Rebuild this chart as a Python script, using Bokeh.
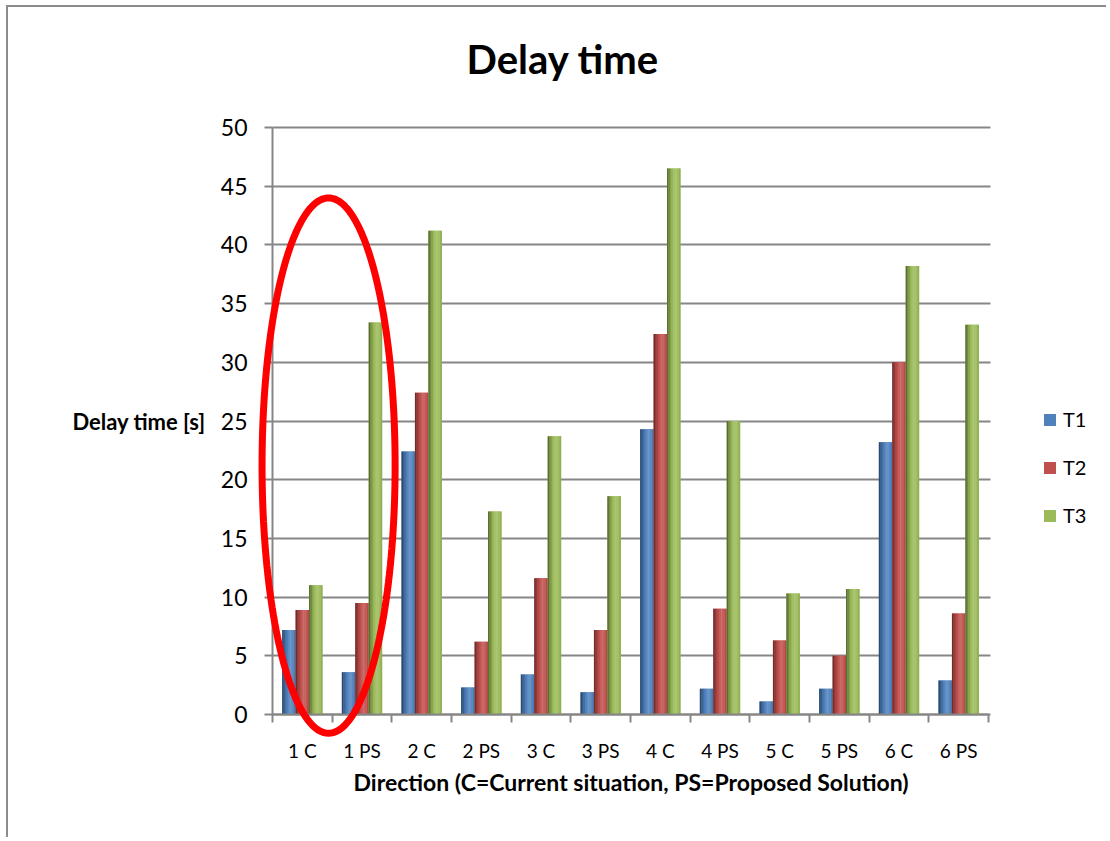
import numpy as np
from bokeh.plotting import figure
from bokeh.models import (Range1d, FixedTicker, Legend, LegendItem, ColumnDataSource,
                          PolyAnnotation, LinearAxis, Title)
from bokeh.transform import dodge
from bokeh.embed import file_html
from bokeh.resources import INLINE

# ---------------- data ----------------
categories = ["1 C", "1 PS", "2 C", "2 PS", "3 C", "3 PS",
              "4 C", "4 PS", "5 C", "5 PS", "6 C", "6 PS"]
series_names = ["T1", "T2", "T3"]
t1 = [7.2, 3.6, 22.4, 2.3, 3.4, 1.9, 24.3, 2.2, 1.1, 2.2, 23.2, 2.9]
t2 = [8.9, 9.5, 27.4, 6.2, 11.6, 7.2, 32.4, 9.0, 6.3, 5.0, 30.0, 8.6]
t3 = [11.0, 33.4, 41.2, 17.3, 23.7, 18.6, 46.5, 25.0, 10.3, 10.7, 38.2, 33.2]
y_ticks = [0, 5, 10, 15, 20, 25, 30, 35, 40, 45, 50]
highlight = ["1 C", "1 PS"]          # categories circled in red
highlight_y = (-1.6, 44.0)           # vertical extent of the red ellipse (data units)

title_text = "Delay time"
x_title = "Direction (C=Current situation, PS=Proposed Solution)"
y_title = "Delay time [s]"

# ---------------- styles ----------------
FONT = "Lato"
base_colors = ["#4f81bd", "#c0504d", "#9bbb59"]
GRID = "#868686"
BAR_W = 0.225
N_STRIPS = 9
profile_t = [0.0, 0.15, 0.35, 0.6, 0.8, 1.0]
profile_f = [0.50, 0.72, 0.95, 1.18, 1.10, 0.88]
PX_X = 716 / 12      # pixels per category
PX_Y = 587 / 50      # pixels per second


def shade(hexcol, f):
    c = np.array([int(hexcol[i:i + 2], 16) for i in (1, 3, 5)], dtype=float)
    if f <= 1:
        c = c * f
    else:
        c = c + (255 - c) * (f - 1)
    c = np.clip(c, 0, 255).astype(int)
    return "#%02x%02x%02x" % tuple(c)


n = len(categories)
x_idx = list(range(n))
x_lo, x_hi = -0.5, n - 0.5
y_lo, y_hi = y_ticks[0], y_ticks[-1]
src = ColumnDataSource(dict(x=x_idx, T1=t1, T2=t2, T3=t3))

# the frame is widened beyond the axes so that the red ellipse and legend are not clipped
p = figure(width=1100, height=832, output_backend="svg", toolbar_location=None,
           x_range=Range1d(x_lo - 22 / PX_X, x_hi + 112 / PX_X),
           y_range=Range1d(y_lo - 24 / PX_Y, y_hi + 23 / PX_Y),
           min_border_left=242, min_border_top=97, min_border_right=8,
           min_border_bottom=101)
p.styles = {"margin-left": "6px", "margin-top": "5px",
            "border-top": "2px solid #8c8c8c", "border-left": "2px solid #8c8c8c"}
p.outline_line_color = None
p.background_fill_color = "white"
p.border_fill_color = "white"

# title
p.title.text = title_text
p.title.text_font = FONT
p.title.text_font_style = "bold"
p.title.text_font_size = "40px"
p.title.text_color = "black"
p.title.align = "left"
p.title.offset = 216
p.title.standoff = 43

# grid
p.xgrid.visible = False
p.ygrid.ticker = FixedTicker(ticks=y_ticks)
p.ygrid.grid_line_color = GRID
p.ygrid.grid_line_width = 2
if "cross_bounds" in p.ygrid[0].properties():
    p.ygrid.cross_bounds = (x_lo, x_hi + 0.04)

# y axis (labels + title only; sits at the frame's left edge)
p.yaxis.ticker = FixedTicker(ticks=y_ticks)
p.yaxis.bounds = (y_lo, y_hi)
p.yaxis.axis_line_color = None
p.yaxis.major_tick_line_color = None
p.yaxis.major_tick_out = 0
p.yaxis.minor_tick_line_color = None
p.yaxis.minor_tick_out = 0
p.yaxis.major_label_text_font = FONT
p.yaxis.major_label_text_font_size = "23px"
p.yaxis.major_label_text_color = "black"
p.yaxis.major_label_standoff = 3
p.yaxis.axis_label = y_title
p.yaxis.axis_label_orientation = "horizontal"
p.yaxis.axis_label_text_font = FONT
p.yaxis.axis_label_text_font_style = "bold"
p.yaxis.axis_label_text_font_size = "22px"
p.yaxis.axis_label_text_color = "black"
p.yaxis.axis_label_standoff = 12

# y axis line and ticks at the first category boundary
yfix = LinearAxis(fixed_location=x_lo, bounds=(y_lo, y_hi),
                  ticker=FixedTicker(ticks=[], minor_ticks=y_ticks),
                  axis_line_color=GRID, axis_line_width=2,
                  major_tick_line_color=None, minor_tick_line_color=GRID,
                  minor_tick_line_width=2, minor_tick_in=8, minor_tick_out=0,
                  major_label_standoff=0)
p.add_layout(yfix, "right")

# x axis (labels only; sits at the frame's bottom edge)
p.xaxis.ticker = FixedTicker(ticks=x_idx)
p.xaxis.bounds = (x_lo, x_hi)
p.xaxis.major_label_overrides = {i: c for i, c in enumerate(categories)}
p.xaxis.axis_line_color = None
p.xaxis.major_tick_line_color = None
p.xaxis.major_tick_out = 0
p.xaxis.minor_tick_line_color = None
p.xaxis.minor_tick_out = 0
p.xaxis.major_label_text_font = FONT
p.xaxis.major_label_text_font_size = "19px"
p.xaxis.major_label_text_color = "black"
p.xaxis.major_label_standoff = 0

# x axis title, centred under the category axis
p.add_layout(Title(text=x_title, text_font=FONT, text_font_style="bold",
                   text_font_size="23px", text_color="black", align="left",
                   offset=103, standoff=3), "below")

# x axis line and boundary ticks at y = 0
xfix = LinearAxis(fixed_location=y_lo, bounds=(x_lo, x_hi),
                  ticker=FixedTicker(ticks=[], minor_ticks=[i - 0.5 for i in range(n + 1)]),
                  axis_line_color=GRID, axis_line_width=2,
                  major_tick_line_color=None, minor_tick_line_color=GRID,
                  minor_tick_line_width=2, minor_tick_in=8, minor_tick_out=0,
                  major_label_standoff=0)
p.add_layout(xfix, "above")

# bars: flat base bar + gradient strips
legend_items = []
offsets = [-BAR_W, 0.0, BAR_W]
for name, col, off in zip(series_names, base_colors, offsets):
    base = p.vbar(x=dodge("x", off, range=p.x_range), top=name, bottom=0, width=BAR_W,
                  source=src, fill_color=col, line_color=None)
    legend_items.append(LegendItem(label=name, renderers=[base]))
    sw = BAR_W / N_STRIPS
    for k in range(N_STRIPS):
        t = (k + 0.5) / N_STRIPS
        f = float(np.interp(t, profile_t, profile_f))
        so = off - BAR_W / 2 + sw * (k + 0.5)
        p.vbar(x=dodge("x", so, range=p.x_range), top=name, bottom=0, width=sw * 1.02,
               source=src, fill_color=shade(col, f), line_color=None)

# red ellipse highlighting the first direction
hx = [categories.index(c) for c in highlight]
cx = (min(hx) + max(hx)) / 2 - 0.06
rx = ((max(hx) - min(hx)) + 1.23) / 2
cy = (highlight_y[0] + highlight_y[1]) / 2
ry = (highlight_y[1] - highlight_y[0]) / 2
th = np.linspace(0, 2 * np.pi, 181)
ell = PolyAnnotation(xs=list(cx + rx * np.cos(th)), ys=list(cy + ry * np.sin(th)),
                     fill_alpha=0, line_color="#ff0000", line_width=7, line_alpha=1)
p.add_layout(ell)

legend = Legend(items=legend_items, location=(792, 211), orientation="vertical")
legend.border_line_color = None
legend.background_fill_alpha = 0
legend.padding = 0
legend.margin = 0
legend.spacing = 24
legend.glyph_width = 15
legend.glyph_height = 15
legend.label_height = 20
legend.label_standoff = 6
legend.label_text_font = FONT
legend.label_text_font_size = "20px"
legend.label_text_color = "black"
p.add_layout(legend)

open("out.html", "w").write(file_html(p, INLINE))
